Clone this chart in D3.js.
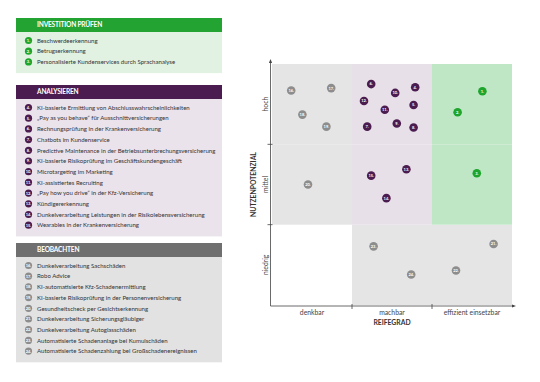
<!DOCTYPE html>
<html lang="de">
<head>
<meta charset="UTF-8">
<title>KI-Anwendungsfälle Portfolio</title>
<script src="https://d3js.org/d3.v7.min.js"></script>
<style>
  body { margin: 0; background: #fff; font-family: Lato, "Open Sans", sans-serif; }
  .item { font-size: 6.05px; fill: #333; }
  .head { font-size: 6.6px; fill: #fff; font-weight: bold; letter-spacing: -0.2px; }
  .num { font-size: 4px; fill: #fff; font-weight: bold; text-anchor: middle; }
  .tick { font-size: 6.8px; fill: #444; }
  .axtitle { font-size: 6.8px; fill: #333; font-weight: bold; }
</style>
</head>
<body>
<svg width="540" height="382"></svg>
<script>
// groups
const groupTitles = ["INVESTITION PRÜFEN", "ANALYSIEREN", "BEOBACHTEN"];
const groupColors = ["#22a332", "#4b1c4f", "#6f6f6f"];
const groupBg = ["#e1f2e3", "#ebe3eb", "#e2e2e2"];
const groupDot = ["#1ea52d", "#4b1c4f", "#8d8d8d"];

// use cases per group (number = position in list)
const items = [
  ["Beschwerdeerkennung", "Betrugserkennung", "Personalisierte Kundenservices durch Sprachanalyse"],
  ["KI-basierte Ermittlung von Abschlusswahrscheinlichkeiten",
   "„Pay as you behave“ für Ausschnittversicherungen",
   "Rechnungsprüfung in der Krankenversicherung",
   "Chatbots im Kundenservice",
   "Predictive Maintenance in der Betriebsunterbrechungsversicherung",
   "KI-basierte Risikoprüfung im Geschäftskundengeschäft",
   "Microtargeting im Marketing",
   "KI-assistiertes Recruiting",
   "„Pay how you drive“ in der Kfz-Versicherung",
   "Kündigererkennung",
   "Dunkelverarbeitung Leistungen in der Risikolebensversicherung",
   "Wearables in der Krankenversicherung"],
  ["Dunkelverarbeitung Sachschäden",
   "Robo Advice",
   "KI-automatisierte Kfz-Schadenermittlung",
   "KI-basierte Risikoprüfung in der Personenversicherung",
   "Gesundheitscheck per Gesichtserkennung",
   "Dunkelverarbeitung Sicherungsgläubiger",
   "Dunkelverarbeitung Autoglasschäden",
   "Automatisierte Schadenanlage bei Kumulschäden",
   "Automatisierte Schadenzahlung bei Großschadenereignissen"]
];

// matrix axes
const reifeLabels = ["denkbar", "machbar", "effizient einsetzbar"];
const nutzenLabels = ["niedrig", "mittel", "hoch"];

// point positions: reifegrad (0-3), nutzenpotenzial (0-3)
const pointIds = [1, 2, 3, 4, 5, 6, 7, 8, 9, 10, 11, 12, 13, 14, 15, 16, 17, 18, 19, 20, 21, 22, 23, 24];
const reifeVals = [2.63, 2.32, 2.56, 1.79, 1.77, 1.24, 1.19, 1.77, 1.56, 1.54, 1.41, 1.15, 1.68, 1.43, 1.24,
                   0.24, 0.74, 0.38, 0.68, 0.45, 2.77, 2.30, 1.27, 1.74];
const nutzenVals = [2.66, 2.40, 1.64, 2.71, 2.49, 2.75, 2.22, 2.21, 2.26, 2.64, 2.43, 2.54, 1.69, 1.33, 1.61,
                    2.67, 2.70, 2.37, 2.22, 1.50, 0.76, 0.43, 0.73, 0.38];

// cell colouring [col][row] -> group index or -1 (white)
const cellGroup = [
  [-1, 2, 2],
  [2, 1, 1],
  [2, 0, 0]
];

const svg = d3.select("svg");

// ---------- left list panels ----------
const panelX = 16, panelW = 206, headH = 14, rowH = 10.7;
const panelTops = [18, 85, 243];
let num = 1;
groupTitles.forEach((title, g) => {
  const top = panelTops[g];
  const n = items[g].length;
  const bodyH = n * rowH + 9;
  const p = svg.append("g");
  p.append("rect").attr("x", panelX).attr("y", top + headH)
    .attr("width", panelW).attr("height", bodyH).attr("fill", groupBg[g]);
  p.append("rect").attr("x", panelX).attr("y", top)
    .attr("width", panelW).attr("height", headH).attr("fill", groupColors[g]);
  p.append("text").attr("class", "head").attr("x", 37).attr("y", top + 9.3).text(title);

  items[g].forEach((t, i) => {
    const cy = top + headH + 8.5 + i * rowH;
    p.append("circle").attr("cx", 28.5).attr("cy", cy).attr("r", 3.6).attr("fill", groupDot[g]);
    p.append("text").attr("class", "num").attr("x", 28.5).attr("y", cy + 1.4).text(num + ".");
    p.append("text").attr("class", "item").attr("x", 37).attr("y", cy + 2.2).text(t);
    num++;
  });
});

// ---------- matrix ----------
const x = d3.scaleLinear().domain([0, 3]).range([272, 512]);
const y = d3.scaleLinear().domain([0, 3]).range([305, 64]);
const cellColors = ["#bfe7c5", "#e8e0e8", "#e5e5e5"];

const m = svg.append("g");
for (let c = 0; c < 3; c++) {
  for (let r = 0; r < 3; r++) {
    const gi = cellGroup[c][r];
    if (gi < 0) continue;
    m.append("rect").attr("x", x(c)).attr("y", y(r + 1))
      .attr("width", x(c + 1) - x(c)).attr("height", y(r) - y(r + 1))
      .attr("fill", cellColors[gi]);
  }
}

// axes lines
const ax = x(0) - 1.5, ay = y(0) + 1;
m.append("line").attr("x1", ax).attr("y1", ay).attr("x2", 514).attr("y2", ay)
  .attr("stroke", "#444").attr("stroke-width", 0.8);
m.append("line").attr("x1", ax).attr("y1", ay).attr("x2", ax).attr("y2", 61)
  .attr("stroke", "#444").attr("stroke-width", 0.8);
m.append("path").attr("d", `M${516},${ay} l-4,-1.6 v3.2 z`).attr("fill", "#444");
m.append("path").attr("d", `M${ax},${59} l-1.6,4 h3.2 z`).attr("fill", "#444");

// ticks at boundaries
[1, 2].forEach(v => {
  m.append("line").attr("x1", x(v)).attr("x2", x(v)).attr("y1", ay - 2).attr("y2", ay + 3)
    .attr("stroke", "#444").attr("stroke-width", 0.8);
  m.append("line").attr("x1", ax - 3).attr("x2", ax + 2).attr("y1", y(v)).attr("y2", y(v))
    .attr("stroke", "#444").attr("stroke-width", 0.8);
});

reifeLabels.forEach((t, i) => {
  m.append("text").attr("class", "tick").attr("text-anchor", "middle")
    .attr("x", x(i + 0.5)).attr("y", 314.5).text(t);
});
m.append("text").attr("class", "axtitle").attr("text-anchor", "middle")
  .attr("x", x(1.5)).attr("y", 324.5).text("REIFEGRAD");

nutzenLabels.forEach((t, i) => {
  m.append("text").attr("class", "tick").attr("text-anchor", "middle")
    .attr("transform", `translate(268,${y(i + 0.5)}) rotate(-90)`).text(t);
});
m.append("text").attr("class", "axtitle").attr("text-anchor", "middle")
  .attr("transform", `translate(256,${y(1.5)}) rotate(-90)`).text("NUTZENPOTENZIAL");

// points
const groupOf = id => id <= 3 ? 0 : (id <= 15 ? 1 : 2);
pointIds.forEach((id, i) => {
  const cx = x(reifeVals[i]), cy = y(nutzenVals[i]);
  m.append("circle").attr("cx", cx).attr("cy", cy).attr("r", 4.3)
    .attr("fill", groupDot[groupOf(id)]);
  m.append("text").attr("class", "num").attr("x", cx).attr("y", cy + 1.4).text(id + ".");
});
</script>
</body>
</html>
